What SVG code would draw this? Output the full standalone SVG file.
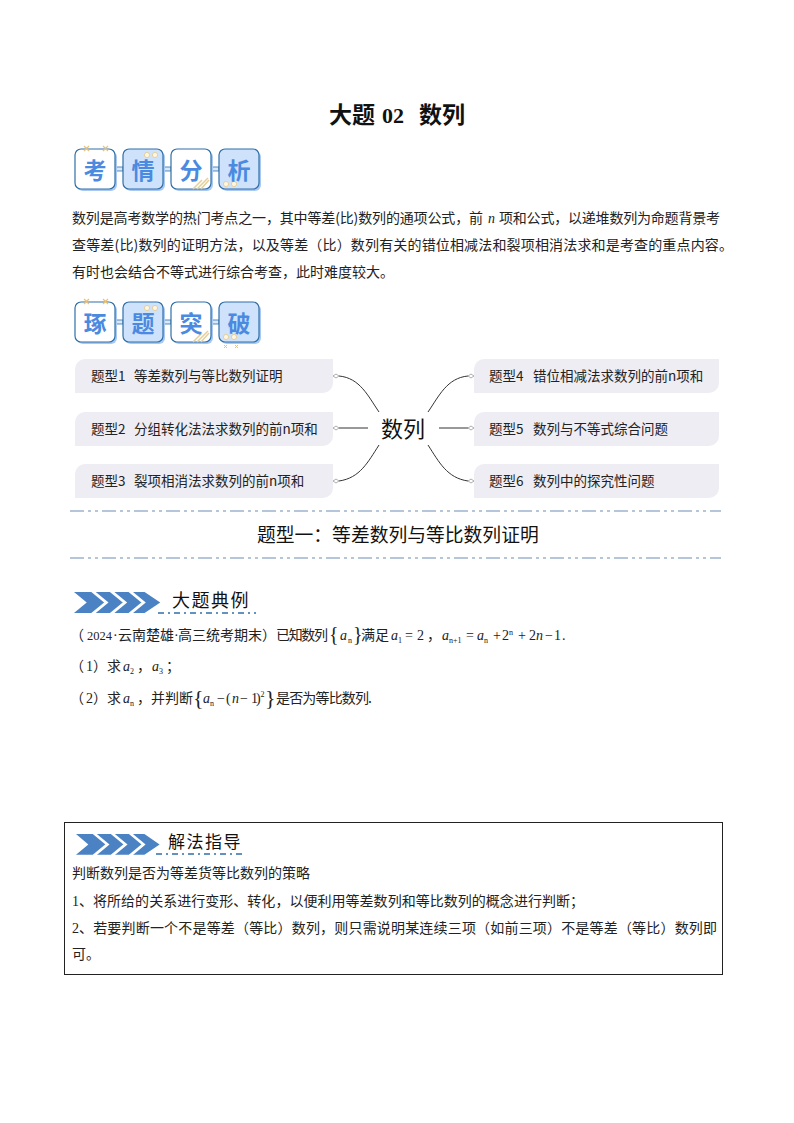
<svg xmlns="http://www.w3.org/2000/svg" width="794" height="1123" viewBox="0 0 794 1123">
<defs>
<style>
text{font-family:"Noto Sans CJK SC","Liberation Sans",sans-serif;fill:#111;text-spacing-trim:space-all}
.b{font-size:14px;fill:#222}
.m{font-family:"Liberation Serif","Noto Sans CJK SC",serif;font-style:italic;font-size:14px;fill:#222}
.s{font-family:"Liberation Serif",serif;font-size:8px;fill:#222}
.r{font-family:"Liberation Serif","Noto Sans CJK SC",serif;font-size:14px;fill:#222}
.br{font-family:"Liberation Serif",serif;font-size:20px;fill:#222}
.pill{fill:#eeedf3}
.pt{font-size:13.5px;fill:#222}
.bd{stroke:#2f6fa8;stroke-width:1.2}
.w{fill:#fff}.l{fill:#cfe2fb}
.bt{font-size:23px;font-weight:700;fill:#4a8ae0;text-anchor:middle}
.c{fill:none;stroke:#333;stroke-width:1}
.dot{fill:#fff;stroke:#999;stroke-width:.8}
.dash{fill:none;stroke:#b5c6da;stroke-width:2;stroke-dasharray:14 4 3 4 3 4}
.lk{fill:#dbe8fa;stroke:#2f6fa8;stroke-width:.8}
.ul{stroke:#2f6fa8;stroke-width:1.5;stroke-dasharray:6 4 2 4;fill:none}
</style>
<g id="bt">
<rect class="lk" x="115" y="167" width="8" height="4"/><rect class="lk" x="163" y="167" width="8" height="4"/><rect class="lk" x="211" y="167" width="8" height="4"/>
<rect x="77" y="151" width="40" height="40" rx="6" fill="#a9c8f2"/><rect x="125" y="151" width="40" height="40" rx="6" fill="#a9c8f2"/><rect x="173" y="151" width="40" height="40" rx="6" fill="#a9c8f2"/><rect x="221" y="151" width="40" height="40" rx="6" fill="#a9c8f2"/>
<rect class="w bd" x="75" y="149" width="40" height="40" rx="6"/><rect class="l bd" x="123" y="149" width="40" height="40" rx="6"/><rect class="w bd" x="171" y="149" width="40" height="40" rx="6"/><rect class="l bd" x="219" y="149" width="40" height="40" rx="6"/>
<circle cx="147" cy="155" r="2.6" fill="#fdf6e0" stroke="#e6cf9a"/><circle cx="155" cy="155" r="2.6" fill="#fdf6e0" stroke="#e6cf9a"/>
<circle cx="226" cy="184" r="2.6" fill="#fdf6e0" stroke="#e6cf9a"/><circle cx="234" cy="184" r="2.6" fill="#fdf6e0" stroke="#e6cf9a"/>
<path d="M197 189l11-11M201 189l8-9M193 189l9-9" stroke="#e6cf9a" stroke-width="1.5" fill="none"/>
<path d="M84 146l5 5M89 146l-5 5M103 146l5 5M108 146l-5 5" stroke="#e6c27a" stroke-width="1.2" fill="none"/>
</g>
<g id="ch">
<path d="M0 0H72L88 16 72 32H0L13 16Z" fill="#4a82c4"/>
<path d="M19 -1L33 16 19 33M38 -1L52 16 38 33M57 -1L71 16 57 33" fill="none" stroke="#fff" stroke-width="3.5"/>
</g>
</defs>
<rect width="794" height="1123" fill="#fff"/>
<g id="title" style="font-size:23px;font-weight:700">
<text x="329" y="123" style="font-size:23px;font-weight:700" fill="#000">大题</text>
<text x="382" y="123" style="font-family:'Liberation Serif',serif;font-size:22px;font-weight:700" fill="#000">02</text>
<text x="419" y="123" style="font-size:23px;font-weight:700" fill="#000">数列</text>
</g>

<g id="badge1"><use href="#bt"/><text class="bt" x="95" y="179">考</text><text class="bt" x="143" y="179">情</text><text class="bt" x="191" y="179">分</text><text class="bt" x="239" y="179">析</text></g>

<g id="intro">
<text class="b" x="72" y="223" textLength="411">数列是高考数学的热门考点之一，其中等差(比)数列的通项公式，前</text>
<text class="m" x="488" y="223">n</text>
<text class="b" x="499" y="223" textLength="221">项和公式，以递堆数列为命题背景考</text>
<text class="b" x="72" y="250" textLength="661">查等差(比)数列的证明方法，以及等差（比）数列有关的错位相减法和裂项相消法求和是考查的重点内容。</text>
<text class="b" x="72" y="277" textLength="322">有时也会结合不等式进行综合考查，此时难度较大。</text>
</g>

<g id="badge2" transform="translate(0,153)"><use href="#bt"/><text class="bt" x="95" y="179">琢</text><text class="bt" x="143" y="179">题</text><text class="bt" x="191" y="179">突</text><text class="bt" x="239" y="179">破</text><path d="M224 192l3 3M227 192l-3 3M235 192l3 3M238 192l-3 3" stroke="#e6c27a" fill="none"/></g>

<g id="connectors">
<path class="c" d="M339 376C360 378 368 396 379 412"/>
<path class="c" d="M339 428H368"/>
<path class="c" d="M339 481C360 478 368 462 379 445"/>
<path class="c" d="M468 376C447 378 439 396 428 412"/>
<path class="c" d="M439 428H468"/>
<path class="c" d="M468 481C447 478 439 462 428 445"/>
<path class="dot" d="M333 376l3-2 3 2-3 2ZM333 428l3-2 3 2-3 2ZM333 481l3-2 3 2-3 2ZM468 376l3-2 3 2-3 2ZM468 428l3-2 3 2-3 2ZM468 481l3-2 3 2-3 2Z"/>
</g>
<g id="center"><text x="403" y="437" style="font-size:22px" text-anchor="middle" fill="#111">数列</text></g>
<g id="t1"><path class="pill" d="M85 359H333V383a10 10 0 0 1-10 10H75V369a10 10 0 0 1 10-10Z"/><text class="pt" x="91" y="381">题型1</text><text class="pt" x="134" y="381">等差数列与等比数列证明</text></g>
<g id="t2"><path class="pill" d="M85 412H333V436a10 10 0 0 1-10 10H75V422a10 10 0 0 1 10-10Z"/><text class="pt" x="91" y="434">题型2</text><text class="pt" x="134" y="434">分组转化法法求数列的前n项和</text></g>
<g id="t3"><path class="pill" d="M85 464H333V488a10 10 0 0 1-10 10H75V474a10 10 0 0 1 10-10Z"/><text class="pt" x="91" y="486">题型3</text><text class="pt" x="134" y="486">裂项相消法求数列的前n项和</text></g>
<g id="t4"><path class="pill" d="M484 359H719V383a10 10 0 0 1-10 10H474V369a10 10 0 0 1 10-10Z"/><text class="pt" x="489" y="381">题型4</text><text class="pt" x="533" y="381">错位相减法求数列的前n项和</text></g>
<g id="t5"><path class="pill" d="M484 412H719V436a10 10 0 0 1-10 10H474V422a10 10 0 0 1 10-10Z"/><text class="pt" x="489" y="434">题型5</text><text class="pt" x="533" y="434">数列与不等式综合问题</text></g>
<g id="t6"><path class="pill" d="M484 464H719V488a10 10 0 0 1-10 10H474V474a10 10 0 0 1 10-10Z"/><text class="pt" x="489" y="486">题型6</text><text class="pt" x="533" y="486">数列中的探究性问题</text></g>

<g id="heading">
<path class="dash" d="M70 511H721"/><path class="dash" d="M70 558H721"/>
<text x="257" y="542" style="font-size:18.8px" fill="#111">题型一：等差数列与等比数列证明</text>
</g>

<g id="example">
<use href="#ch" transform="translate(74,592) scale(.98,.66)"/>
<text x="172" y="607" style="font-size:18px;letter-spacing:1.5px">大题典例</text>
<path class="ul" d="M158 613H256"/>
<text class="b" x="70" y="640">（</text><text class="r" x="87" y="640" style="font-size:12.5px">2024</text><text class="r" x="113" y="640">·</text>
<text class="b" x="118" y="640">云南楚雄</text><text class="r" x="174" y="640">·</text><text class="b" x="178" y="640">高三统考期末）</text>
<text class="b" x="276" y="640" textLength="52">已知数列</text>
<text class="br" x="329" y="641">{</text><text class="m" x="340" y="640">a</text><text class="s" x="348" y="643">n</text><text class="br" x="353" y="641">}</text>
<text class="b" x="361" y="640">满足</text>
<text class="m" x="391" y="640">a</text><text class="s" x="398" y="643">1</text><text class="r" x="405 417 427" y="640">=2，</text>
<text class="m" x="442" y="640">a</text><text class="s" x="449" y="643">n+1</text><text class="r" x="466" y="640">=</text>
<text class="m" x="477" y="640">a</text><text class="s" x="484" y="643">n</text>
<text class="r" x="493 502" y="640">+2</text><text class="s" x="509" y="635">n</text><text class="r" x="518 529" y="640">+2</text>
<text class="m" x="536" y="640">n</text><text class="r" x="545 554 562" y="640">−1.</text>
<text class="b" x="70" y="671">（</text><text class="r" x="86" y="671">1</text><text class="b" x="93" y="671">）</text><text class="b" x="107" y="671">求</text>
<text class="m" x="123" y="671">a</text><text class="s" x="130" y="674">2</text><text class="r" x="137" y="671">，</text><text class="m" x="152" y="671">a</text><text class="s" x="159" y="674">3</text><text class="r" x="166" y="671">；</text>
<text class="b" x="70" y="703">（</text><text class="r" x="86" y="703">2</text><text class="b" x="93" y="703">）</text><text class="b" x="107" y="703">求</text>
<text class="m" x="123" y="703">a</text><text class="s" x="130" y="706">n</text>
<text class="r" x="137" y="703">，</text><text class="b" x="151" y="703">并判断</text>
<text class="br" x="193" y="705" style="font-size:22px">{</text><text class="m" x="203" y="703">a</text><text class="s" x="210" y="706">n</text><text class="r" x="217 226" y="703">−(</text>
<text class="m" x="232" y="703">n</text><text class="r" x="240 251 256" y="703">−1)</text><text class="s" x="260.5" y="697">2</text>
<text class="br" x="265" y="705" style="font-size:22px">}</text>
<text class="b" x="276" y="703" textLength="96">是否为等比数列.</text>
</g>

<g id="box">
<rect x="64.5" y="822.5" width="658" height="152" fill="#fff" stroke="#222"/>
<use href="#ch" transform="translate(76,834) scale(.95,.65)"/>
<text x="168" y="848" style="font-size:17px;letter-spacing:1.5px">解法指导</text>
<path class="ul" d="M156 854H246"/>
<text class="b" x="72" y="878">判断数列是否为等差货等比数列的策略</text>
<text class="r" x="72" y="906">1</text><text class="b" x="79" y="906" textLength="505">、将所给的关系进行变形、转化，以便利用等差数列和等比数列的概念进行判断；</text>
<text class="r" x="72" y="933">2</text><text class="b" x="79" y="933" textLength="638">、若要判断一个不是等差（等比）数列，则只需说明某连续三项（如前三项）不是等差（等比）数列即</text>
<text class="b" x="72" y="959">可。</text>
</g>
</svg>
